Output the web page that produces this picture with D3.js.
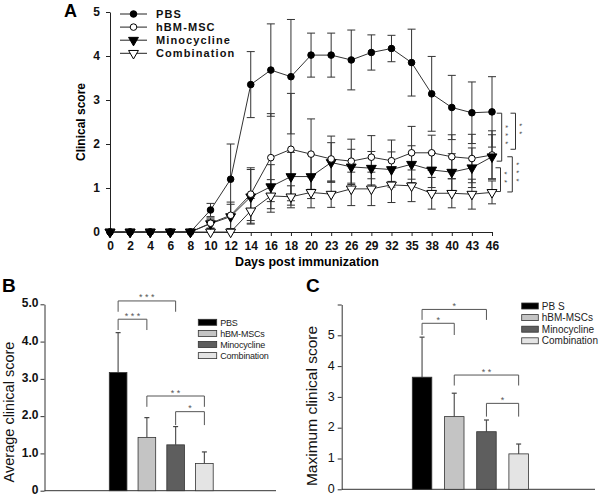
<!DOCTYPE html>
<html><head><meta charset="utf-8">
<script src="https://cdn.jsdelivr.net/npm/d3@7"></script>
<style>
body{margin:0;background:#fff;}
svg{display:block;font-family:"Liberation Sans",Arial,sans-serif;}
</style></head>
<body>
<svg id="chart" width="600" height="496"></svg>
<script>
// ---------- Panel A data ----------
const days = ["0","2","4","6","8","10","12","14","16","18","20","23","26","29","32","35","38","40","43","46"];
const pbsMean  = [0,0,0,0,0,0.5,1.2,3.35,3.68,3.53,4.02,4.02,3.91,4.08,4.17,3.85,3.14,2.83,2.71,2.73];
const pbsSD    = [0,0,0,0,0,0.15,0.8,0.75,1.05,1.3,0.5,0.5,0.68,0.4,0.3,0.76,0.85,0.73,0.7,0.8];
const hbmMean  = [0,0,0,0,0,0.2,0.38,0.86,1.69,1.88,1.77,1.66,1.61,1.7,1.62,1.8,1.8,1.71,1.67,1.75];
const hbmSD    = [0,0,0,0,0,0.12,0.3,0.6,1.0,1.27,0.8,0.52,0.5,0.49,0.47,0.6,0.4,0.5,0.55,0.55];
const minoMean = [0,0,0,0,0,0.19,0.35,0.8,1.03,1.26,1.26,1.58,1.48,1.45,1.42,1.54,1.41,1.36,1.46,1.71];
const minoSD   = [0,0,0,0,0,0.1,0.28,0.62,0.5,0.55,0.5,0.45,0.4,0.38,0.4,0.42,0.4,0.42,0.45,0.5];
const combMean = [0,0,0,0,0,0,0,0.48,0.82,0.8,0.9,0.86,0.98,0.98,1.07,1.05,0.88,0.88,0.86,0.9];
const combSD   = [0,0,0,0,0,0,0,0.28,0.37,0.25,0.35,0.3,0.38,0.38,0.4,0.36,0.36,0.33,0.34,0.26];
const seriesNamesA = ["PBS","hBM-MSC","Minocycline","Combination"];
const yTicksA = [0,1,2,3,4,5];
// significance brackets on the right of A: [top value, bottom value, stars]
const sigA = [[2.70,1.61,"***"],[2.70,1.88,"**"],[1.71,0.91,"***"],[1.46,0.92,"**"]];

// ---------- Panel B / C data ----------
const groups = ["PBS","hBM-MSCs","Minocycline","Combination"];
const legendB = ["PBS","hBM-MSCs","Minocycline","Combination"];
const legendC = ["PB S","hBM-MSCs","Minocycline","Combination"];
const avgMean = [3.17,1.43,1.23,0.73];
const avgErr  = [1.07,0.53,0.49,0.31];
const maxMean = [3.64,2.36,1.87,1.15];
const maxErr  = [1.30,0.76,0.38,0.32];
const yTicksB = [0,1,2,3,4,5];
const yTicksC = [0,1,2,3,4,5,6];
// brackets: [groupA, groupB, bracket level, leg-end level, stars]
const sigB = [["PBS","Minocycline",5.09,4.80,"* * *"],["PBS","hBM-MSCs",4.60,4.31,"* * *"],
              ["hBM-MSCs","Combination",2.54,2.25,"* *"],["Minocycline","Combination",2.12,1.76,"*"]];
const sigC = [["PBS","Minocycline",5.84,5.50,"*"],["PBS","hBM-MSCs",5.39,5.01,"*"],
              ["hBM-MSCs","Combination",3.71,3.37,"* *"],["Minocycline","Combination",2.79,2.36,"*"]];
const barColors = ["#000000","#c4c4c4","#5e5e5e","#e4e4e4"];

const svg = d3.select("#chart");

// ================= Panel A =================
const xA = d3.scalePoint().domain(days).range([110,492]);
const yA = d3.scaleLinear().domain([0,5]).range([232,12]);

const gxA = svg.append("g").attr("transform","translate(0,232)")
  .call(d3.axisBottom(xA).tickSize(4).tickSizeOuter(0).tickPadding(5));
const gyA = svg.append("g").attr("transform","translate(110,0)")
  .call(d3.axisLeft(yA).tickValues(yTicksA).tickSize(4).tickSizeOuter(0).tickPadding(6).tickFormat(d3.format("d")));
[gxA,gyA].forEach(g=>{
  g.selectAll("path,line").attr("stroke","#222").attr("stroke-width",1);
  g.selectAll("text").attr("font-size",12).attr("font-weight","bold").attr("fill","#111")
   .attr("font-family","'Liberation Sans',Arial,sans-serif");
});

svg.append("text").attr("x",307).attr("y",266).attr("text-anchor","middle")
  .attr("font-size",12.5).attr("font-weight","bold").text("Days post immunization");
svg.append("text").attr("transform","translate(85,122) rotate(-90)").attr("text-anchor","middle")
  .attr("font-size",12).attr("font-weight","bold").text("Clinical score");
svg.append("text").attr("x",64).attr("y",17).attr("font-size",18).attr("font-weight","bold").text("A");

const seriesA = [
  {name:seriesNamesA[3], mean:combMean, sd:combSD, shape:"tri", fill:"#fff"},
  {name:seriesNamesA[2], mean:minoMean, sd:minoSD, shape:"tri", fill:"#000"},
  {name:seriesNamesA[1], mean:hbmMean, sd:hbmSD, shape:"circle", fill:"#fff"},
  {name:seriesNamesA[0], mean:pbsMean, sd:pbsSD, shape:"circle", fill:"#000"}
];
const triPath = d3.symbol().type(d3.symbolTriangle).size(42)();
function drawMarker(g, shape, fill){
  if(shape==="circle"){
    g.append("circle").attr("r",3.3).attr("fill",fill).attr("stroke","#000").attr("stroke-width",1);
  } else {
    g.append("path").attr("d",triPath).attr("transform","rotate(180)")
      .attr("fill",fill).attr("stroke","#000").attr("stroke-width",1);
  }
}
// error bars first
seriesA.forEach(s=>{
  const g = svg.append("g").attr("stroke","#333").attr("stroke-width",1);
  days.forEach((d,i)=>{
    if(s.sd[i]<=0) return;
    const cx = xA(d), y1 = yA(s.mean[i]+s.sd[i]), y2 = yA(Math.max(0,s.mean[i]-s.sd[i]));
    g.append("line").attr("x1",cx).attr("x2",cx).attr("y1",y1).attr("y2",y2);
    g.append("line").attr("x1",cx-4).attr("x2",cx+4).attr("y1",y1).attr("y2",y1);
    g.append("line").attr("x1",cx-4).attr("x2",cx+4).attr("y1",y2).attr("y2",y2);
  });
});
const lineGen = d3.line().x((d,i)=>xA(days[i])).y(d=>yA(d));
seriesA.forEach(s=>{
  svg.append("path").datum(s.mean).attr("d",lineGen).attr("fill","none")
    .attr("stroke","#333").attr("stroke-width",1);
});
seriesA.forEach(s=>{
  days.forEach((d,i)=>{
    if(s.name==="Minocycline" && i===days.length-1) return; // drawn last (on top)
    const g = svg.append("g").attr("transform",`translate(${xA(d)},${yA(s.mean[i])})`);
    drawMarker(g,s.shape,s.fill);
  });
});
{
  const i = days.length-1;
  const g = svg.append("g").attr("transform",`translate(${xA(days[i])},${yA(minoMean[i])})`);
  drawMarker(g,"tri","#000");
}
// legend A
const legA = [
  {name:seriesNamesA[0],shape:"circle",fill:"#000"},
  {name:seriesNamesA[1],shape:"circle",fill:"#fff"},
  {name:seriesNamesA[2],shape:"tri",fill:"#000"},
  {name:seriesNamesA[3],shape:"tri",fill:"#fff"}
];
legA.forEach((l,i)=>{
  const yy = 14 + i*13.1;
  svg.append("line").attr("x1",120).attr("x2",147).attr("y1",yy).attr("y2",yy).attr("stroke","#222");
  const g = svg.append("g").attr("transform",`translate(133.5,${yy})`);
  drawMarker(g,l.shape,l.fill);
  svg.append("text").attr("x",156).attr("y",yy+4).attr("font-size",11).attr("font-weight","bold")
    .attr("letter-spacing",1.1).attr("fill","#111").text(l.name);
});
// significance brackets A (stars stacked vertically, as rotated text)
const bracketX = [501.7,515.5,512.3,500.5];
sigA.forEach((s,i)=>{
  const bx = bracketX[i], yt = yA(s[0]), yb = yA(s[1]);
  svg.append("path").attr("d",`M${bx-5},${yt}H${bx}V${yb}H${bx-5}`)
    .attr("fill","none").attr("stroke","#333").attr("stroke-width",1);
  const mid = (yt+yb)/2;
  svg.append("text").attr("transform",`translate(${bx+1.5},${mid}) rotate(90)`)
    .attr("text-anchor","middle").attr("font-size",8).attr("letter-spacing",5)
    .attr("fill","#444").text(s[2]);
});

// ================= Bar panels =================
function barPanel(opt){
  const y = d3.scaleLinear().domain(opt.domain).range([opt.y0,opt.y1]);
  const x = d3.scaleBand().domain(groups).range([opt.xb0,opt.xb1]).paddingInner(opt.pad).paddingOuter(0);
  const gy = svg.append("g").attr("transform",`translate(${opt.ax},0)`)
    .call(d3.axisLeft(y).tickValues(opt.ticks).tickSize(4).tickSizeOuter(0).tickPadding(opt.tp)
      .tickFormat(opt.fmt));
  gy.selectAll("path,line").attr("stroke","#333");
  gy.selectAll("text").attr("font-size",opt.tfs).attr("font-weight",opt.tfw).attr("fill","#111")
    .attr("dy",opt.tdy)
    .attr("font-family","'Liberation Sans',Arial,sans-serif");
  svg.append("line").attr("x1",opt.ax).attr("x2",opt.xEnd).attr("y1",opt.y0).attr("y2",opt.y0)
    .attr("stroke","#333").attr("stroke-width",1);
  // error bars (upper only)
  groups.forEach((gname,i)=>{
    const cx = x(gname)+x.bandwidth()/2;
    const yt = y(opt.mean[i]+opt.err[i]);
    svg.append("line").attr("x1",cx).attr("x2",cx).attr("y1",y(opt.mean[i])).attr("y2",yt)
      .attr("stroke","#555").attr("stroke-width",1.2);
    svg.append("line").attr("x1",cx-2.5).attr("x2",cx+2.5).attr("y1",yt).attr("y2",yt)
      .attr("stroke","#444").attr("stroke-width",1.2);
  });
  svg.selectAll(null).data(groups).enter().append("rect")
    .attr("x",d=>x(d)).attr("width",x.bandwidth())
    .attr("y",(d,i)=>y(opt.mean[i])).attr("height",(d,i)=>opt.y0-y(opt.mean[i]))
    .attr("fill",(d,i)=>barColors[i]).attr("stroke","#333").attr("stroke-width",0.8);
  // brackets
  opt.sig.forEach(s=>{
    const xa = x(s[0])+x.bandwidth()/2, xb = x(s[1])+x.bandwidth()/2;
    const yl = y(s[2]), ye = y(s[3]);
    svg.append("path").attr("d",`M${xa},${ye}V${yl}H${xb}V${ye}`).attr("fill","none")
      .attr("stroke","#555").attr("stroke-width",1);
    svg.append("text").attr("x",(xa+xb)/2).attr("y",yl-0.5).attr("text-anchor","middle")
      .attr("font-size",9).attr("fill","#555").text(s[4]);
  });
  // legend
  opt.legend.forEach((t,i)=>{
    const yy = opt.ly + i*opt.lstep;
    svg.append("rect").attr("x",opt.lx).attr("y",yy-3).attr("width",opt.lw).attr("height",6)
      .attr("fill",barColors[i]).attr("stroke","#333").attr("stroke-width",0.8);
    svg.append("text").attr("x",opt.lx+opt.lw+3.5).attr("y",yy+3.5).attr("font-size",opt.lfs)
      .attr("fill","#222").attr("letter-spacing",opt.lls).text(t);
  });
  svg.append("text").attr("transform",`translate(${opt.labX},${opt.labY}) rotate(-90)`)
    .attr("text-anchor","middle").attr("font-size",opt.labFs).attr("fill","#111").text(opt.label);
  svg.append("text").attr("x",opt.letX).attr("y",292).attr("font-size",19).attr("font-weight","bold")
    .text(opt.letter);
}

barPanel({domain:[0,5], y0:490.7, y1:304.3, xb0:109.3, xb1:213.2, pad:0.387, ax:44.5, xEnd:276,
  ticks:yTicksB, tp:2, fmt:d=>d===0?"0":d.toFixed(1), tfs:12, tfw:"bold", tdy:"0.22em",
  mean:avgMean, err:avgErr, sig:sigB, legend:legendB, lx:198.3, lw:18.4, ly:322.3, lstep:11.1, lfs:9, lls:-0.2,
  label:"Average clinical score", labX:13.5, labY:412, labFs:14.5, letter:"B", letX:2});

barPanel({domain:[0,6], y0:489.3, y1:304.5, xb0:412.3, xb1:528.4, pad:0.394, ax:341.7, xEnd:595,
  ticks:yTicksC, tp:3, fmt:d=>d===6?"":String(d), tfs:12.5, tfw:"normal", tdy:"0.25em",
  mean:maxMean, err:maxErr, sig:sigC, legend:legendC, lx:521.7, lw:16.6, ly:306, lstep:11.6, lfs:10, lls:0,
  label:"Maximum clinical score", labX:316.5, labY:406, labFs:15.5, letter:"C", letX:306});
</script>
</body></html>
